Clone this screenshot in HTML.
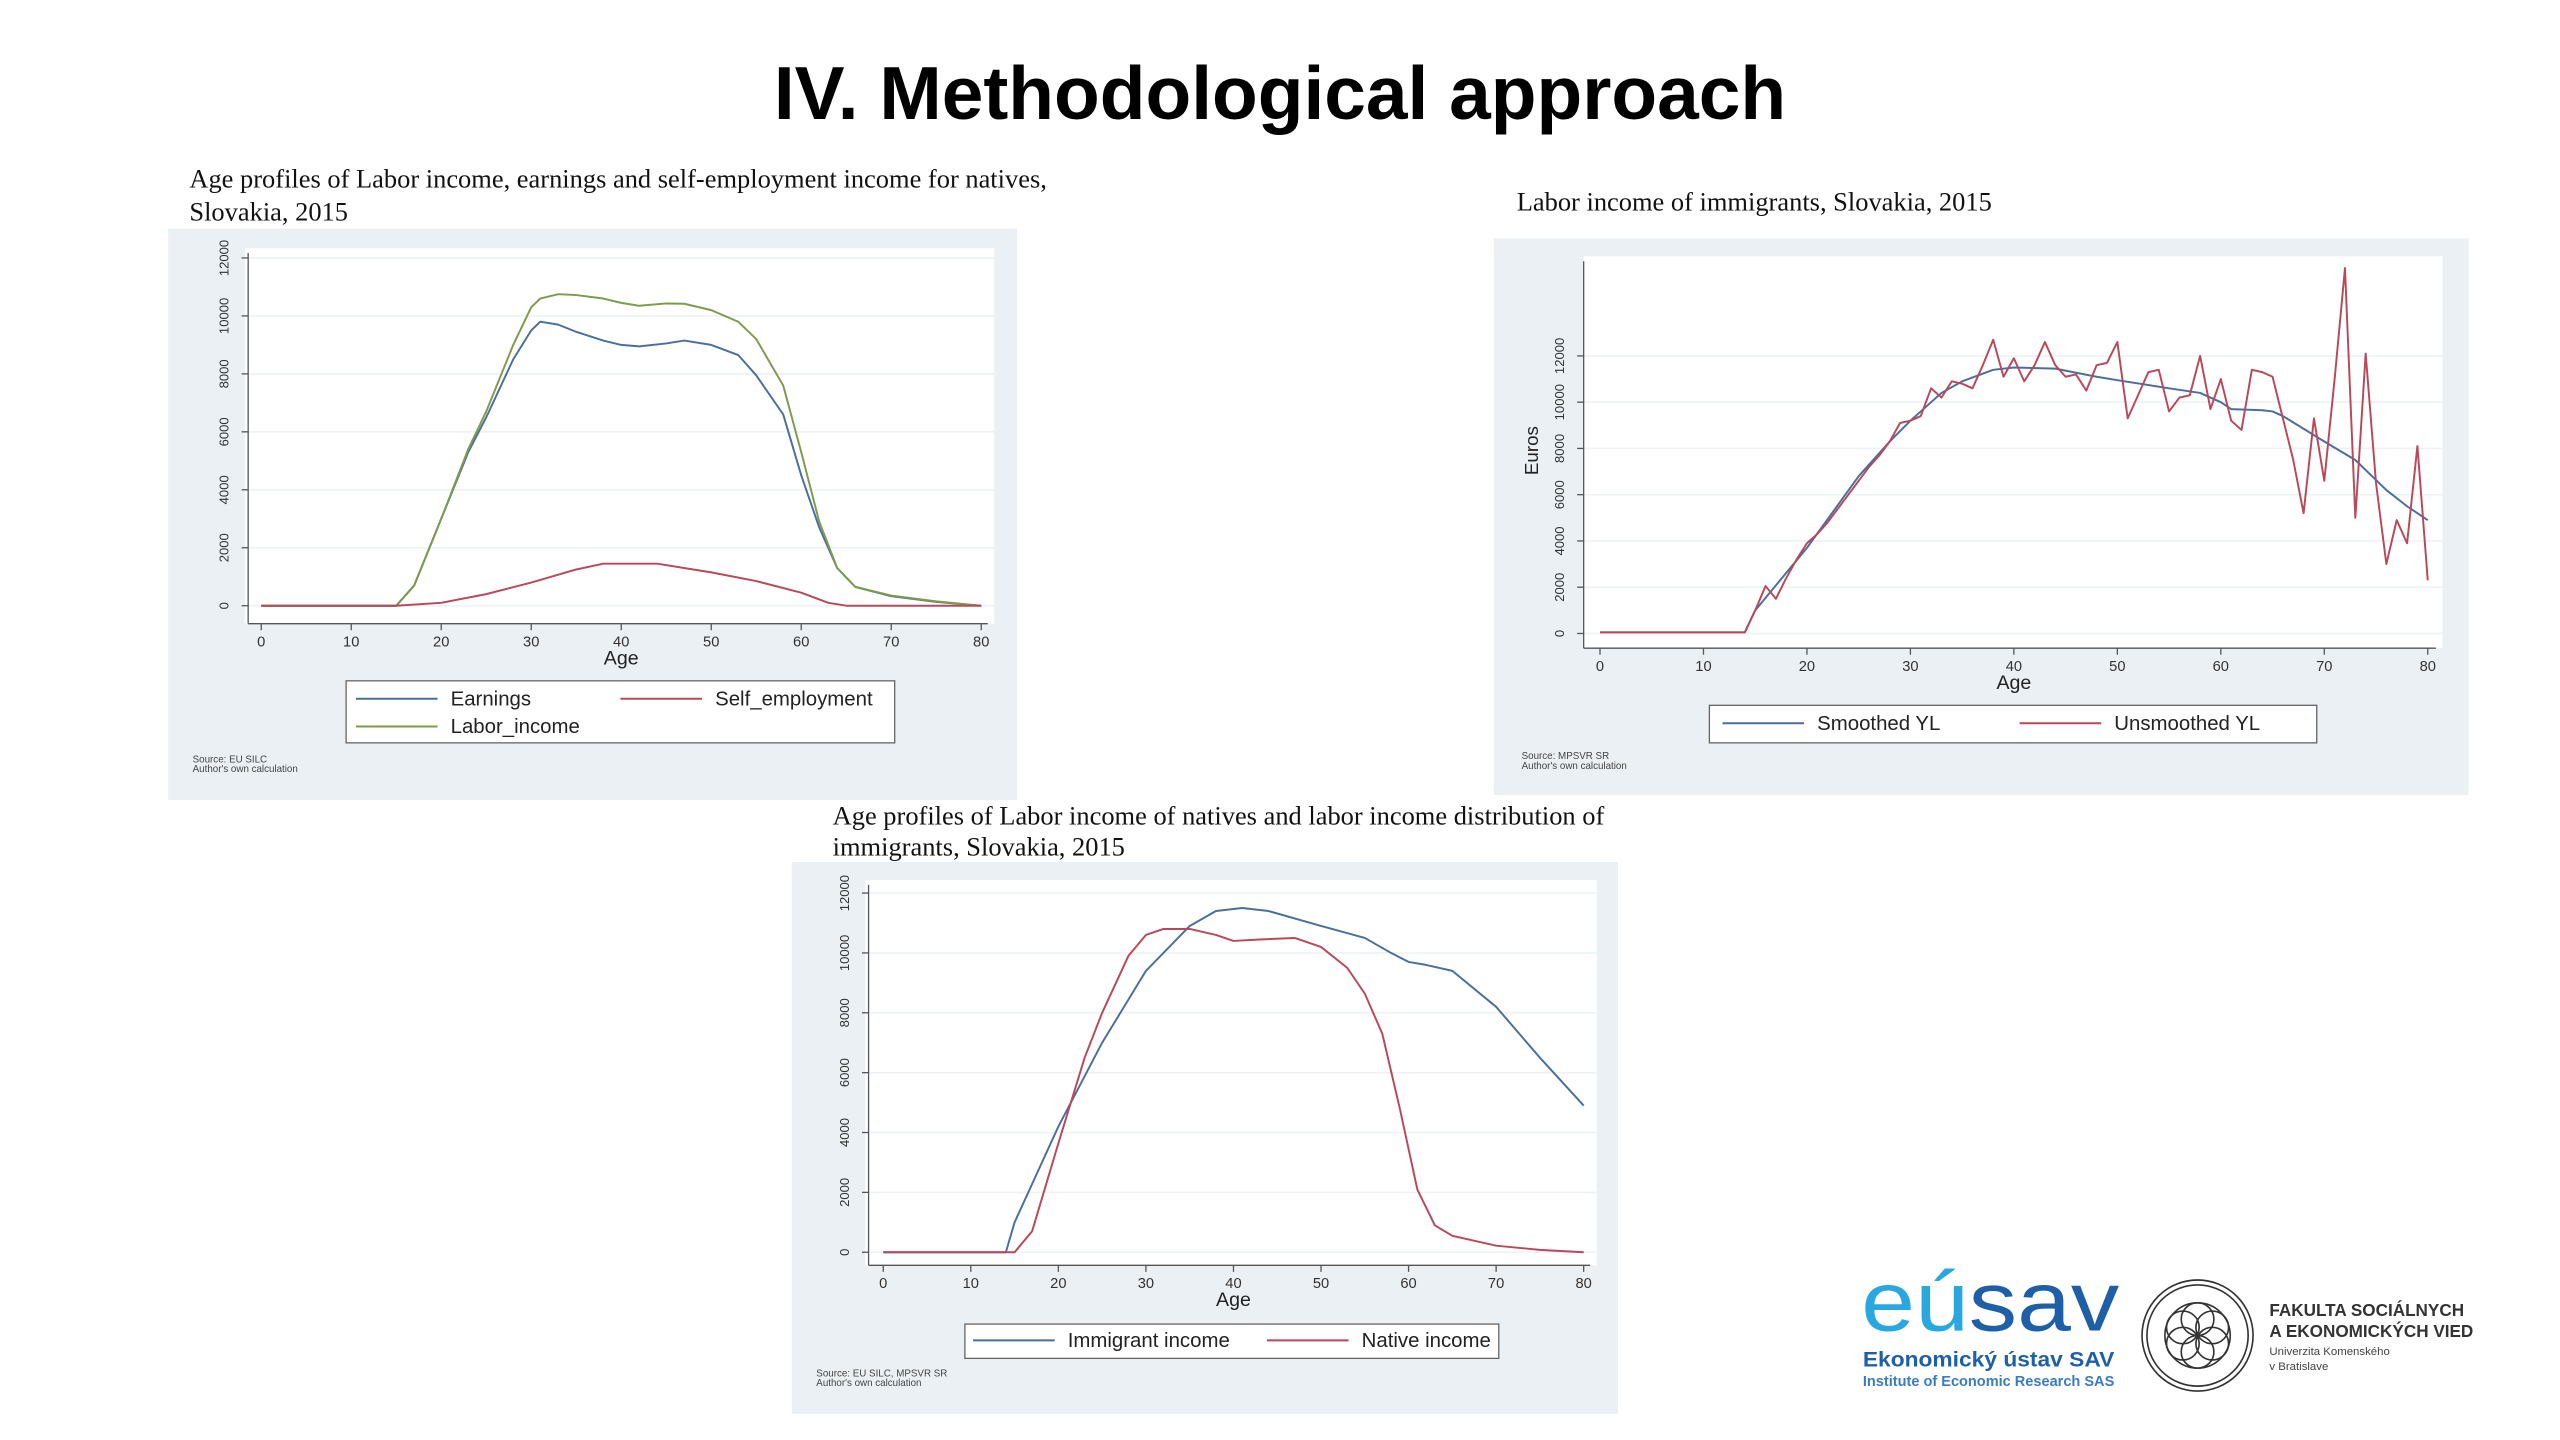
<!DOCTYPE html>
<html><head><meta charset="utf-8">
<style>
html,body{margin:0;padding:0;background:#fff;}
svg{display:block;}
</style></head>
<body>
<svg id="slide" xmlns="http://www.w3.org/2000/svg" width="2560" height="1440" viewBox="0 0 1568 882" font-family="'Liberation Sans', sans-serif">
<rect x="0" y="0" width="1568" height="882" fill="#ffffff"/>
<text x="784" y="73" text-anchor="middle" font-size="46" font-weight="bold" fill="#000" textLength="620" lengthAdjust="spacingAndGlyphs">IV. Methodological approach</text>

<text x="116" y="115" font-family="'Liberation Serif', serif" font-size="16.2" fill="#111">Age profiles of Labor income, earnings and self-employment income for natives,</text>
<text x="116" y="135" font-family="'Liberation Serif', serif" font-size="16.2" fill="#111">Slovakia, 2015</text>
<text x="929" y="129" font-family="'Liberation Serif', serif" font-size="16.2" fill="#111">Labor income of immigrants, Slovakia, 2015</text>
<text x="510" y="505" font-family="'Liberation Serif', serif" font-size="16.2" fill="#111">Age profiles of Labor income of natives and labor income distribution of</text>
<text x="510" y="524" font-family="'Liberation Serif', serif" font-size="16.2" fill="#111">immigrants, Slovakia, 2015</text>

<g id="chart1"></g>
<g id="chart2"></g>
<g id="chart3"></g>

<g>
  <text x="1140" y="815" font-size="52" fill="#29a8e0" textLength="158" lengthAdjust="spacingAndGlyphs">eú<tspan fill="#1f5fa8">sav</tspan></text>
  <text x="1141" y="837" font-size="13" font-weight="bold" fill="#1f5fa8" textLength="154" lengthAdjust="spacingAndGlyphs">Ekonomický ústav SAV</text>
  <text x="1141" y="849" font-size="9" font-weight="bold" fill="#3a7cc0" textLength="154" lengthAdjust="spacingAndGlyphs">Institute of Economic Research SAS</text>
</g>
<g fill="none" stroke="#333" stroke-width="1">
  <circle cx="1346" cy="818" r="34"/>
  <circle cx="1346" cy="818" r="31"/>
  <circle cx="1346" cy="808" r="10"/><circle cx="1346" cy="828" r="10"/>
  <circle cx="1337" cy="813" r="10"/><circle cx="1355" cy="813" r="10"/>
  <circle cx="1337" cy="823" r="10"/><circle cx="1355" cy="823" r="10"/>
  <circle cx="1346" cy="818" r="20"/>
</g>
<g>
  <text x="1390" y="806" font-size="10.5" font-weight="bold" fill="#333">FAKULTA SOCIÁLNYCH</text>
  <text x="1390" y="819" font-size="10.5" font-weight="bold" fill="#333">A EKONOMICKÝCH VIED</text>
  <text x="1390" y="830" font-size="7" fill="#444">Univerzita Komenského</text>
  <text x="1390" y="839" font-size="7" fill="#444">v Bratislave</text>
</g>
</svg>
<script>
// ---------- Chart 1 data ----------
const c1Ages = [0,15,17,20,23,25,28,30,31,33,35,38,40,42,45,47,50,53,55,58,60,62,64,66,70,75,80];
const c1Earnings = [0,0,700,3000,5300,6500,8500,9500,9800,9700,9450,9150,9000,8950,9050,9150,9000,8650,7950,6600,4500,2700,1300,650,330,130,0];
const c1Labor = [0,0,700,3000,5400,6700,9000,10300,10600,10750,10720,10600,10450,10350,10430,10420,10200,9800,9200,7600,5300,2900,1300,650,350,150,0];
const c1SelfAges = [0,15,20,25,30,35,38,40,44,50,55,60,63,65,80];
const c1Self = [0,0,100,400,800,1250,1450,1450,1450,1150,850,450,100,0,0];
const c1YTicks = [0,2000,4000,6000,8000,10000,12000];
const c1XTicks = [0,10,20,30,40,50,60,70,80];

// ---------- Chart 2 data ----------
const c2SmoothAges = [0,14,15,20,25,28,30,33,35,38,40,44,48,50,55,58,60,61,64,65,66,70,73,76,78,80];
const c2Smooth = [50,50,1000,3700,6800,8300,9200,10400,10900,11400,11500,11450,11100,10950,10600,10400,10000,9700,9650,9600,9400,8300,7500,6200,5500,4900];
const c2RawAges = [0,14,15,16,17,18,19,20,21,22,23,24,25,26,27,28,29,30,31,32,33,34,35,36,37,38,39,40,41,42,43,44,45,46,47,48,49,50,51,52,53,54,55,56,57,58,59,60,61,62,63,64,65,66,67,68,69,70,71,72,73,74,75,76,77,78,79,80];
const c2Raw = [50,50,1000,2050,1500,2400,3200,3900,4300,4800,5400,6000,6600,7200,7700,8300,9100,9200,9400,10600,10200,10900,10800,10600,11600,12700,11100,11900,10900,11600,12600,11600,11100,11200,10500,11600,11700,12600,9300,10300,11300,11400,9600,10200,10300,12000,9700,11000,9200,8800,11400,11300,11100,9300,7500,5200,9300,6600,11000,15800,5000,12100,6500,3000,4900,3900,8100,2300];
const c2YTicks = [0,2000,4000,6000,8000,10000,12000];
const c2XTicks = [0,10,20,30,40,50,60,70,80];

// ---------- Chart 3 data ----------
const c3ImmAges = [0,14,15,20,25,30,35,38,41,44,50,55,58,60,62,65,70,75,80];
const c3Imm = [0,0,1000,4200,7000,9400,10900,11400,11500,11400,10900,10500,10000,9700,9600,9400,8200,6500,4900];
const c3NatAges = [0,15,17,20,23,25,28,30,32,35,38,40,43,47,50,53,55,57,59,61,63,65,70,75,80];
const c3Nat = [0,0,700,3640,6500,8000,9900,10600,10800,10800,10600,10400,10450,10500,10200,9500,8640,7300,4800,2100,900,550,220,80,0];
const c3YTicks = [0,2000,4000,6000,8000,10000,12000];
const c3XTicks = [0,10,20,30,40,50,60,70,80];

const NS = 'http://www.w3.org/2000/svg';
function mk(parent, tag, attrs){
  const el = document.createElementNS(NS, tag);
  for (const k in attrs) el.setAttribute(k, attrs[k]);
  parent.appendChild(el);
  return el;
}
function buildChart(g, cfg){
  const bg = mk(g,'rect',{x:cfg.panel[0],y:cfg.panel[1],width:cfg.panel[2],height:cfg.panel[3],fill:'#eaf0f4'});
  
  
  const pl = mk(g,'rect',{x:cfg.plot[0],y:cfg.plot[1],width:cfg.plot[2],height:cfg.plot[3],fill:'#ffffff'});
  
  
  const xS = v => cfg.x0 + (v - 0) / 80 * (cfg.x1 - cfg.x0);
  const yS = v => cfg.y0 - v / 12000 * (cfg.y0 - cfg.y12);
  const axisX = cfg.axisX, axisY = cfg.axisY;
  cfg.yTicks.forEach(t => {
    const y = yS(t);
    const gl = mk(g,'line',{x1:axisX,x2:cfg.plot[0]+cfg.plot[2],y1:y,y2:y,stroke:'#eef2f5','stroke-width':1});
    
    
    mk(g,'line',{x1:axisX-4,x2:axisX,y1:y,y2:y,stroke:'#555','stroke-width':0.8});
    const tx = mk(g,'text',{x:axisX-12,y:y,'font-size':8,fill:'#333','text-anchor':'middle',transform:`rotate(-90 ${axisX-12} ${y})`});
    tx.textContent = t;
    
    
  });
  const ya = mk(g,'line',{x1:axisX,x2:axisX,y1:cfg.plot[1]+3,y2:axisY,stroke:'#555','stroke-width':0.8});
  
  
  const xa = mk(g,'line',{x1:axisX,x2:cfg.plot[0]+cfg.plot[2]-4,y1:axisY,y2:axisY,stroke:'#555','stroke-width':0.8});
  
  
  cfg.xTicks.forEach(t => {
    const x = xS(t);
    mk(g,'line',{x1:x,x2:x,y1:axisY,y2:axisY+4,stroke:'#555','stroke-width':0.8});
    const tx = mk(g,'text',{x:x,y:axisY+14,'font-size':9,fill:'#333','text-anchor':'middle'});
    tx.textContent = t;
    
    
  });
  const at = mk(g,'text',{x:(cfg.x0+cfg.x1)/2,y:axisY+25,'font-size':12,fill:'#222','text-anchor':'middle'});
  at.textContent = 'Age';
  
  
  if (cfg.yTitle){
    const yt = mk(g,'text',{x:cfg.yTitle[0],y:cfg.yTitle[1],'font-size':11.5,fill:'#222','text-anchor':'middle',transform:`rotate(-90 ${cfg.yTitle[0]} ${cfg.yTitle[1]})`});
    yt.textContent = 'Euros';
    
    
  }
  cfg.series.forEach(s => {
    const d = s.xs.map((a,i) => (i?'L':'M') + xS(a).toFixed(2) + ' ' + yS(s.ys[i]).toFixed(2)).join(' ');
    const p = mk(g,'path',{d:d,fill:'none',stroke:s.color,'stroke-width':1.2,'stroke-linejoin':'round'});
    
    
  });
  const L = cfg.legend;
  const lb = mk(g,'rect',{x:L.box[0],y:L.box[1],width:L.box[2],height:L.box[3],fill:'#fff',stroke:'#666','stroke-width':0.8});
  
  
  L.items.forEach(it => {
    mk(g,'line',{x1:it.x,x2:it.x+50,y1:it.y,y2:it.y,stroke:it.color,'stroke-width':1.2});
    const tx = mk(g,'text',{x:it.x+58,y:it.y+4,'font-size':12.5,fill:'#222'});
    tx.textContent = it.label;
    
    
  });
  cfg.source.forEach((s,i) => {
    const tx = mk(g,'text',{x:cfg.sourceX,y:cfg.sourceY+i*6,'font-size':6,fill:'#444'});
    tx.textContent = s;
    
    
  });
}
const BLUE='#4a6f9c', GREEN='#7f9a4c', RED='#b8495a';
buildChart(document.getElementById('chart1'), {
  panel:[103,140,520,350], plot:[150,152,459,230],
  x0:160, x1:601, y0:371, y12:158, axisX:152, axisY:382,
  yTicks:c1YTicks, xTicks:c1XTicks,
  series:[
    {name:'series-earnings', xs:c1Ages, ys:c1Earnings, color:BLUE},
    {name:'series-labor-income', xs:c1Ages, ys:c1Labor, color:GREEN},
    {name:'series-self-employment', xs:c1SelfAges, ys:c1Self, color:RED}],
  legend:{box:[212,417,336,38], items:[
    {x:218,y:428,color:BLUE,label:'Earnings'},
    {x:380,y:428,color:RED,label:'Self_employment'},
    {x:218,y:445,color:GREEN,label:'Labor_income'}]},
  source:['Source: EU SILC','Author\'s own calculation'], sourceX:118, sourceY:467
});
buildChart(document.getElementById('chart2'), {
  panel:[915,146,597,341], plot:[970,157,526,240],
  x0:980, x1:1487, y0:388, y12:218, axisX:970, axisY:397,
  yTicks:c2YTicks, xTicks:c2XTicks, yTitle:[942,276],
  series:[
    {name:'series-smoothed-yl', xs:c2SmoothAges, ys:c2Smooth, color:BLUE},
    {name:'series-unsmoothed-yl', xs:c2RawAges, ys:c2Raw, color:RED}],
  legend:{box:[1047,432,372,23], items:[
    {x:1055,y:443,color:BLUE,label:'Smoothed YL'},
    {x:1237,y:443,color:RED,label:'Unsmoothed YL'}]},
  source:['Source: MPSVR SR','Author\'s own calculation'], sourceX:932, sourceY:465
});
buildChart(document.getElementById('chart3'), {
  panel:[485,528,506,338], plot:[530,539,448,236],
  x0:541, x1:970, y0:767, y12:547, axisX:532, axisY:775,
  yTicks:c3YTicks, xTicks:c3XTicks,
  series:[
    {name:'series-immigrant-income', xs:c3ImmAges, ys:c3Imm, color:BLUE},
    {name:'series-native-income', xs:c3NatAges, ys:c3Nat, color:RED}],
  legend:{box:[591,811,327,21], items:[
    {x:596,y:821,color:BLUE,label:'Immigrant income'},
    {x:776,y:821,color:RED,label:'Native income'}]},
  source:['Source: EU SILC, MPSVR SR','Author\'s own calculation'], sourceX:500, sourceY:843
});
</script>
</body></html>
